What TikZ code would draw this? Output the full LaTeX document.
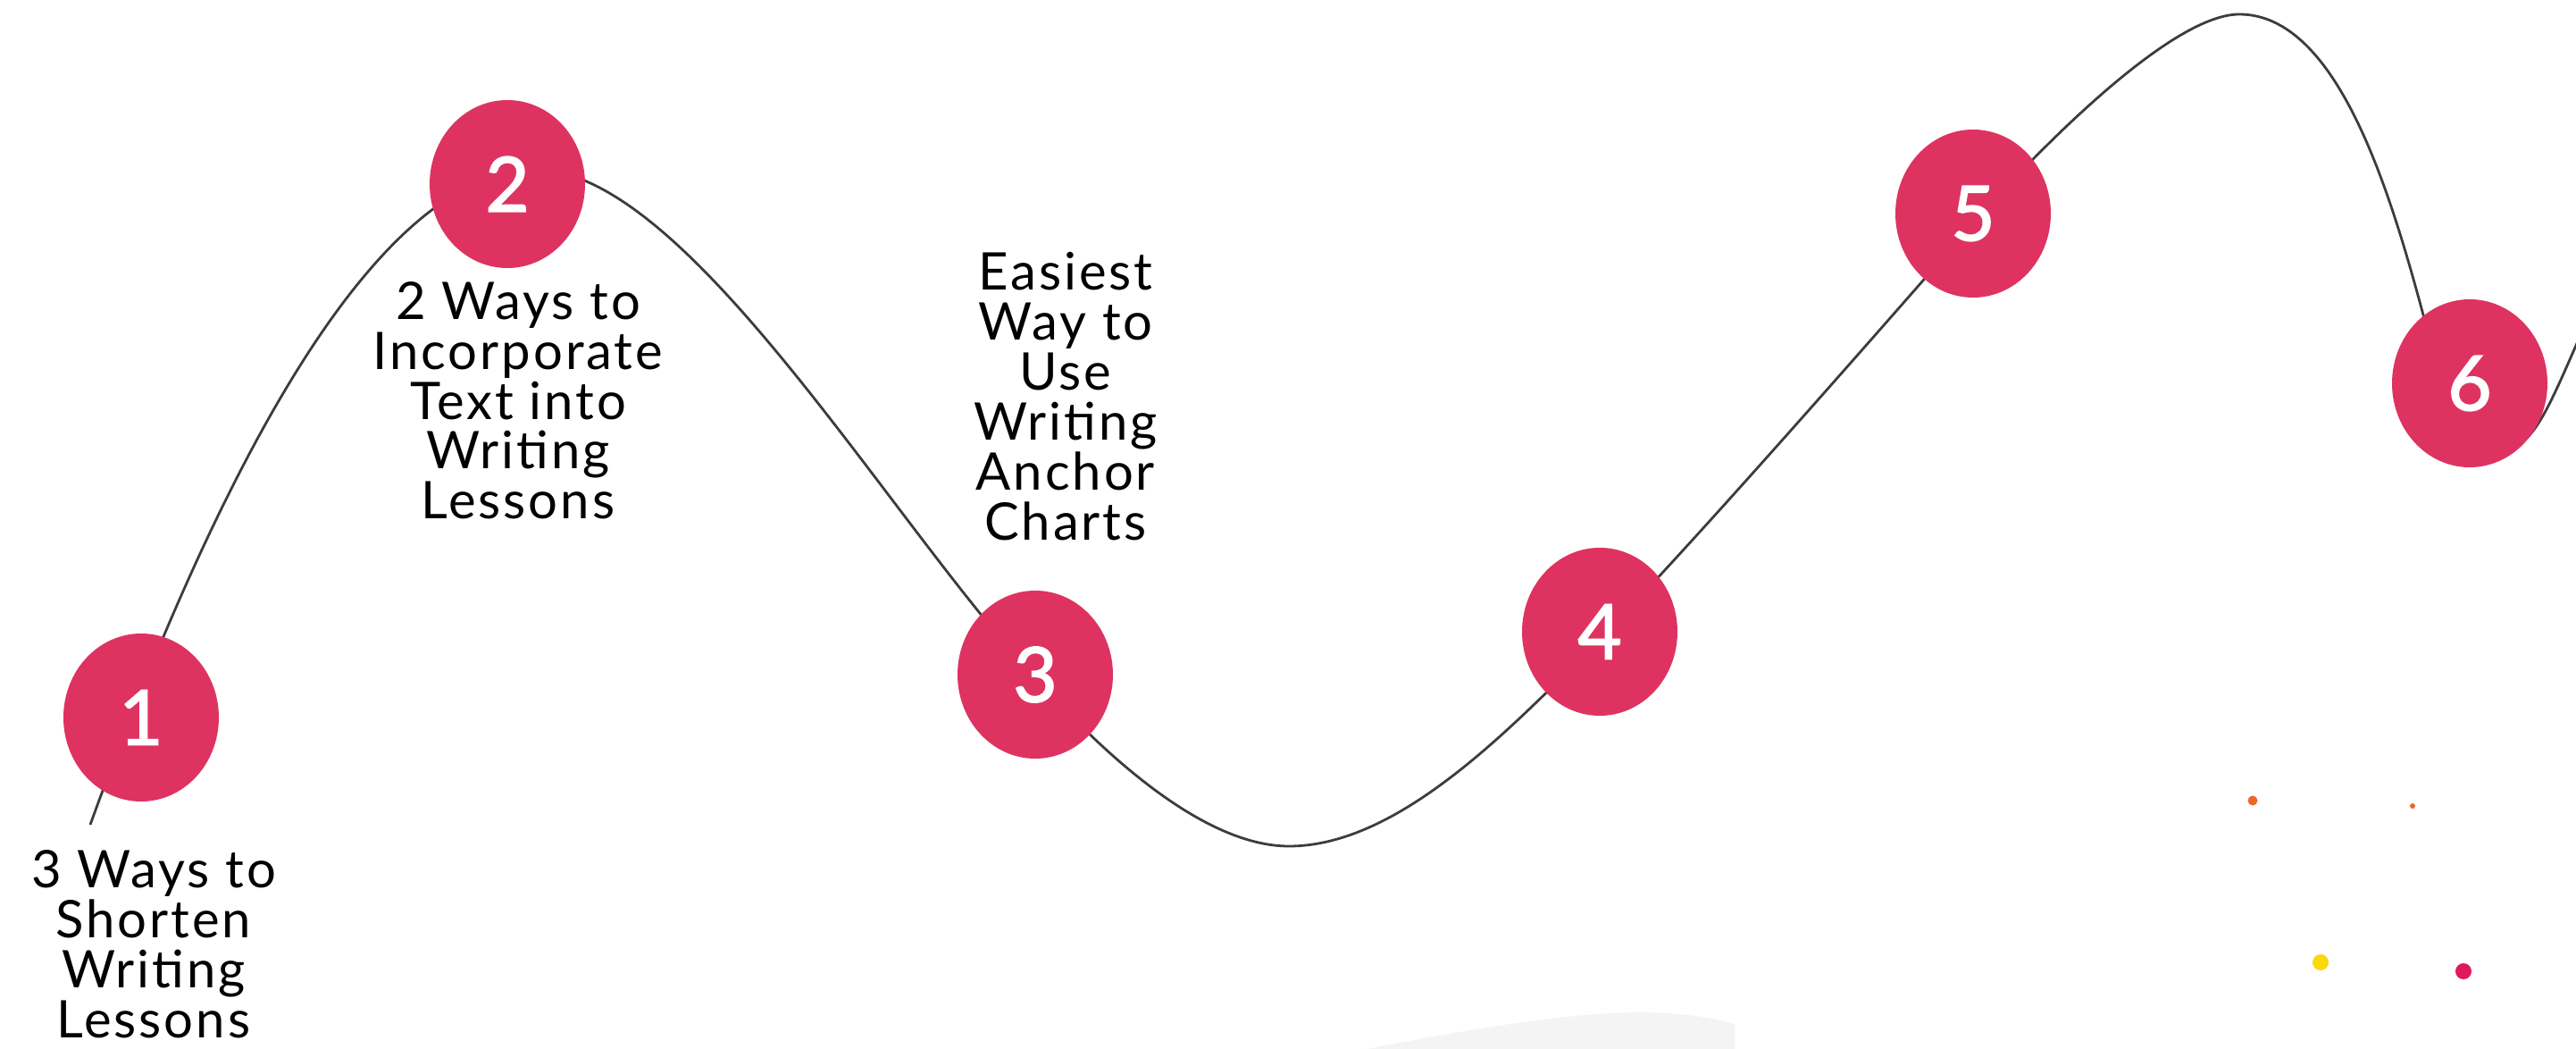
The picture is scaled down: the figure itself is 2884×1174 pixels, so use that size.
\documentclass[tikz,border=0pt]{standalone}
\usepackage{fontspec}
\setmainfont[LetterSpace=5]{Lato}
\newfontfamily\numfont[FakeBold=2]{Lato}
\usetikzlibrary{shapes.geometric}
\definecolor{pin}{RGB}{222,51,96}
\definecolor{wavegray}{RGB}{60,60,60}
\definecolor{bgshape}{RGB}{244,244,244}
\definecolor{dotorange}{RGB}{236,104,40}
\definecolor{dotyellow}{RGB}{250,216,10}
\definecolor{dotpink}{RGB}{224,26,90}
\newcommand\lblstack[1]{\vtop{\lineskiplimit=-100pt\lineskip=0pt\halign{\hfil##\hfil\cr #1\crcr}}}
\begin{document}
\begin{tikzpicture}[x=1pt,y=-1pt,
  stepnum/.style={ellipse, fill=pin, minimum width=174pt, minimum height=188pt, inner sep=0pt, text=white, font=\numfont\fontsize{85}{85}\selectfont},
  lbl/.style={inner sep=0pt, anchor=base, font=\fontsize{58}{56}\selectfont},
  wave/.style={draw=wavegray, line width=2.8pt},
  dot/.style={circle, inner sep=0pt, draw=none}]
\useasboundingbox[fill=white] (0,0) rectangle (2884,1174);
% grey background shape
\fill[bgshape] (1500,1180) .. controls (1650,1150) and (1760,1133) .. (1840,1133)
  .. controls (1890,1134) and (1920,1140) .. (1942,1146) -- (1942,1180) -- cycle;
% wave
\draw[wave] (101,923) .. controls (200,650) and (390,190) .. (600,190)
  .. controls (770,190) and (1000,590) .. (1159,758)
  .. controls (1245,855) and (1353,947) .. (1443,947)
  .. controls (1563,947) and (1686,822) .. (1791,715)
  .. controls (1889,616) and (2117,355) .. (2209,250)
  .. controls (2268,183) and (2427,16) .. (2507,16)
  .. controls (2617,16) and (2676,214) .. (2715,360)
  .. controls (2741,457) and (2770,505) .. (2810,500)
  .. controls (2840,497) and (2860,440) .. (2900,350);
% step circles
\node[stepnum] (c1) at (158,803) {1};
\node[stepnum] (c2) at (568,206) {2};
\node[stepnum] (c3) at (1159,755) {3};
\node[stepnum] (c4) at (1791,707) {4};
\node[stepnum] (c5) at (2209,239) {5};
\node[stepnum] (c6) at (2765,429) {6};
% labels
\node[lbl] (t1) at (172,993) {\lblstack{3 Ways to\cr Shorten\cr Writing\cr Lessons}};
\node[lbl] (t2) at (580,357) {\lblstack{2 Ways to\cr Incorporate\cr Text into\cr Writing\cr Lessons}};
\node[lbl] (t3) at (1193,325) {\lblstack{Easiest\cr Way to\cr Use\cr Writing\cr Anchor\cr Charts}};
% confetti dots
\node[dot, fill=dotorange, minimum size=11pt] (d1) at (2522,896) {};
\node[dot, fill=dotorange, minimum size=6pt] (d2) at (2701,902) {};
\node[dot, fill=dotyellow, minimum size=18pt] (d3) at (2598,1077) {};
\node[dot, fill=dotpink, minimum size=18pt] (d4) at (2758,1087) {};
\end{tikzpicture}
\end{document}
